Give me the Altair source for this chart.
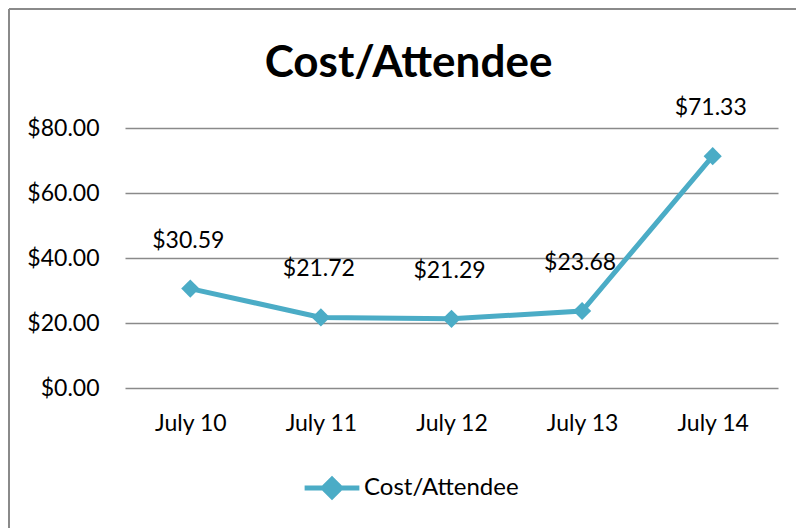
import altair as alt
import pandas as pd

dates = ["July 10", "July 11", "July 12", "July 13", "July 14"]
costs = [30.59, 21.72, 21.29, 23.68, 71.33]
series_name = "Cost/Attendee"
y_ticks = [0, 20, 40, 60, 80]

df = pd.DataFrame({"date": dates, "cost": costs, "series": [series_name] * len(dates)})

FONT = "Lato"
BLUE = "#4BACC6"
W, H = 653, 260

x = alt.X("date:N", sort=dates, title=None,
          scale=alt.Scale(type="point", padding=0.5),
          axis=alt.Axis(labelFontSize=23, labelColor="black", labelPadding=24,
                        domain=False, ticks=False, labelAngle=0, labelFont=FONT))
y = alt.Y("cost:Q", title=None,
          scale=alt.Scale(domain=[0, 80], nice=False),
          axis=alt.Axis(values=y_ticks, format="$,.2f", labelFontSize=23, labelColor="black",
                        labelPadding=26, domain=False, ticks=False, grid=True,
                        gridColor="#8a8a8a", gridWidth=1.5, labelFont=FONT))

base = alt.Chart(df)

line = base.mark_line(strokeWidth=5, color=BLUE).encode(
    x=x, y=y,
    color=alt.Color("series:N", scale=alt.Scale(range=[BLUE]),
                    legend=alt.Legend(title=None, orient="none", legendX=177, legendY=330,
                                      symbolType="M-1,0L1,0M0,-0.32L0.32,0L0,0.32L-0.32,0Z",
                                      symbolSize=3000, symbolStrokeWidth=5,
                                      symbolFillColor=BLUE, symbolStrokeColor=BLUE,
                                      labelFontSize=24, labelFont=FONT, labelColor="black",
                                      labelOffset=2)),
)
points = base.mark_point(shape="diamond", filled=True, size=330, color=BLUE, opacity=1).encode(x=x, y=y)
labels = base.mark_text(fontSize=23, font=FONT, color="black", dy=-48, dx=-2).encode(
    x=x, y=y, text=alt.Text("cost:Q", format="$,.2f"))

frame_top = alt.Chart(df).mark_rule(color="#8a8a8a", strokeWidth=2).encode(
    x=alt.value(-116), x2=alt.value(680), y=alt.value(-119))
frame_left = alt.Chart(df).mark_rule(color="#8a8a8a", strokeWidth=2).encode(
    x=alt.value(-116), y=alt.value(-119), y2=alt.value(410))

chart = alt.layer(frame_top, frame_left, line, points, labels).properties(
    width=W, height=H,
    autosize=alt.AutoSizeParams(type="none"),
    padding={"left": 117, "top": 120, "right": 18, "bottom": 140},
    title=alt.TitleParams("Cost/Attendee", font=FONT, fontSize=44, fontWeight="bold",
                          color="black", anchor="middle", dx=-43, dy=78, offset=0),
).configure_view(stroke=None)

chart.save("out.html", embed_options={"renderer": "svg", "actions": False})
